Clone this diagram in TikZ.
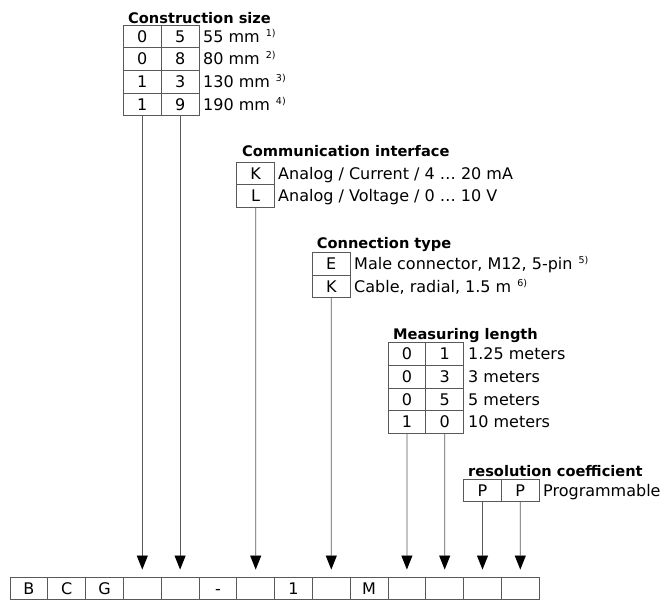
\documentclass[tikz,border=0pt]{standalone}
\usepackage{fontspec}
\setmainfont{DejaVu Sans}
\usetikzlibrary{arrows.meta}
\definecolor{linegray}{gray}{0.35}
\newcommand\regf{\fontsize{16}{19}\selectfont}
\newcommand\titf{\fontsize{14.6}{17}\selectfont\bfseries}
\newcommand\fnote[1]{\hspace{6pt}\raisebox{6pt}{\fontsize{9.5}{10}\selectfont #1}}
\tikzset{
  cellbox/.style={draw=linegray, line width=0.9pt, minimum width=37.8pt, minimum height=22.7pt,
    inner sep=0pt, text height=11.7pt, text depth=0pt, font=\regf},
  lbl/.style={anchor=base west, inner sep=0pt, font=\regf},
  ttl/.style={anchor=base west, inner sep=0pt, font=\titf},
  arr/.style={draw=linegray, line width=0.8pt, -{Triangle[width=11pt,length=14pt,color=black,fill=black]}}
}
\begin{document}
\begin{tikzpicture}[x=1pt,y=-1pt]
\useasboundingbox (0,0) rectangle (665,601);
% bottom row
\foreach \t [count=\i] in {B,C,G,{},{},-,{},1,{},M,{},{},{},{}} {
  \node[cellbox] (b\i) at ({10+(\i-1)*37.8+18.9},588.35) {\t};
}
% Construction size
\node[ttl] (tcs) at (128,23.3) {Construction size};
\foreach \a/\b/\l [count=\r] in {0/5/{55 mm\fnote{1)}},0/8/{80 mm\fnote{2)}},1/3/{130 mm\fnote{3)}},1/9/{190 mm\fnote{4)}}} {
  \node[cellbox] (cs\r a) at (142.3,{36.35+(\r-1)*22.7}) {\a};
  \node[cellbox] (cs\r b) at (180.1,{36.35+(\r-1)*22.7}) {\b};
  \node[lbl] (lcs\r) at (203,{36.35+(\r-1)*22.7+5.85}) {\l};
}
% Communication interface
\node[ttl] (tci) at (242,157) {Communication interface};
\foreach \a/\l [count=\r] in {K/{Analog / Current / 4 … 20 mA},L/{Analog / Voltage / 0 … 10 V}} {
  \node[cellbox] (ci\r) at (255.7,{173.35+(\r-1)*22.7}) {\a};
  \node[lbl] (lci\r) at (278,{173.35+(\r-1)*22.7+5.85}) {\l};
}
% Connection type
\node[ttl] (tct) at (316.7,249) {Connection type};
\foreach \a/\l [count=\r] in {E/{Male connector, M12, 5-pin\fnote{5)}},K/{Cable, radial, 1.5 m\fnote{6)}}} {
  \node[cellbox] (ct\r) at (331.3,{263.65+(\r-1)*22.7}) {\a};
  \node[lbl] (lct\r) at (354,{263.65+(\r-1)*22.7+5.85}) {\l};
}
% Measuring length
\node[ttl] (tml) at (393,340) {Measuring length};
\foreach \a/\b/\l [count=\r] in {0/1/{1.25 meters},0/3/{3 meters},0/5/{5 meters},1/0/{10 meters}} {
  \node[cellbox] (ml\r a) at (406.9,{354.05+(\r-1)*22.7}) {\a};
  \node[cellbox] (ml\r b) at (444.7,{354.05+(\r-1)*22.7}) {\b};
  \node[lbl] (lml\r) at (468,{354.05+(\r-1)*22.7+5.85}) {\l};
}
% resolution coefficient
\node[ttl] (trc) at (468,476.5) {resolution coefficient};
\node[cellbox] (rca) at (482.5,490.35) {P};
\node[cellbox] (rcb) at (520.3,490.35) {P};
\node[lbl] (lrc) at (543,496.2) {Programmable};
% connectors
\draw[arr] (cs4a.south) -- ([yshift=7pt]b4.north);
\draw[arr] (cs4b.south) -- ([yshift=7pt]b5.north);
\draw[arr] (ci2.south) -- ([yshift=7pt]b7.north);
\draw[arr] (ct2.south) -- ([yshift=7pt]b9.north);
\draw[arr] (ml4a.south) -- ([yshift=7pt]b11.north);
\draw[arr] (ml4b.south) -- ([yshift=7pt]b12.north);
\draw[arr] (rca.south) -- ([yshift=7pt]b13.north);
\draw[arr] (rcb.south) -- ([yshift=7pt]b14.north);
\end{tikzpicture}
\end{document}
